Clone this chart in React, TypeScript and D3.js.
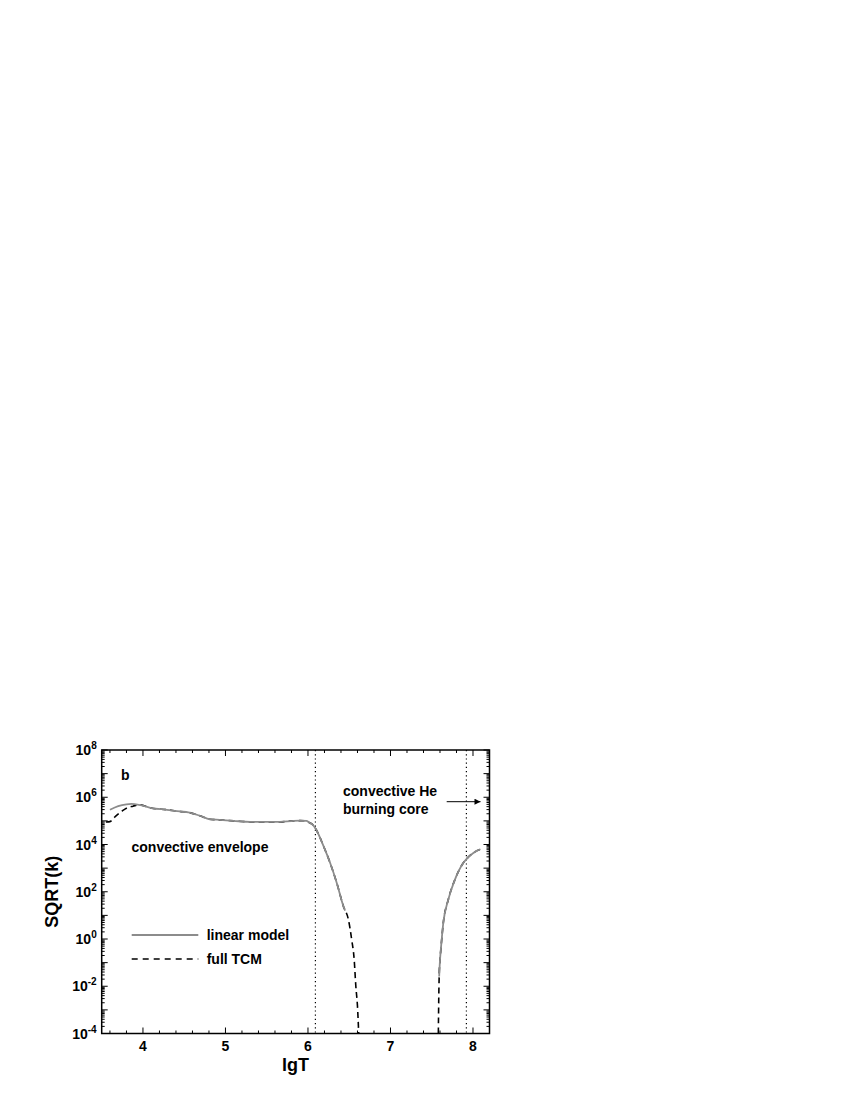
import React from "react";
import * as d3 from "d3";

// x: lgT, y: SQRT(k)
const linearX1 = [3.6, 3.7, 3.8, 3.86, 3.95, 4.1, 4.29, 4.45, 4.55, 4.69, 4.81, 4.93, 5.1, 5.3, 5.5, 5.66, 5.8, 5.9, 5.98, 6.02, 6.06, 6.1, 6.19, 6.27, 6.35, 6.43, 6.45];
const linearY1 = [2.95e5, 4.2e5, 5.0e5, 5.2e5, 4.8e5, 3.5e5, 2.95e5, 2.5e5, 2.3e5, 1.65e5, 1.17e5, 1.1e5, 1.0e5, 9.1e4, 9.1e4, 9.1e4, 9.8e4, 1.02e5, 1.0e5, 8.3e4, 6.8e4, 4.2e4, 8.3e3, 1.6e3, 2.3e2, 24, 16];
const linearX2 = [7.59, 7.6, 7.61, 7.64, 7.7, 7.78, 7.88, 7.92, 8.0, 8.05, 8.09];
const linearY2 = [0.026, 0.13, 0.35, 4.8, 46, 320, 1.6e3, 2.4e3, 4.3e3, 5.5e3, 6.3e3];

const tcmX1 = [3.55, 3.6, 3.67, 3.74, 3.81, 3.88, 3.95, 4.1, 4.29, 4.45, 4.55, 4.69, 4.81, 4.93, 5.1, 5.3, 5.5, 5.66, 5.8, 5.9, 5.98, 6.02, 6.06, 6.1, 6.19, 6.27, 6.35, 6.43, 6.49, 6.53, 6.56, 6.58, 6.6, 6.615];
const tcmY1 = [8.9e4, 9.3e4, 1.6e5, 2.5e5, 3.6e5, 4.2e5, 4.8e5, 3.5e5, 2.95e5, 2.5e5, 2.3e5, 1.65e5, 1.17e5, 1.1e5, 1.0e5, 9.1e4, 9.1e4, 9.1e4, 9.8e4, 1.02e5, 1.0e5, 8.3e4, 6.8e4, 4.2e4, 8.3e3, 1.6e3, 2.3e2, 24, 6.6, 0.93, 0.135, 0.01, 1.4e-3, 1e-4];
const tcmX2 = [7.58, 7.585, 7.59, 7.6, 7.61, 7.64, 7.7, 7.78, 7.88, 7.92, 8.0, 8.05, 8.09];
const tcmY2 = [1e-4, 3e-3, 0.026, 0.13, 0.35, 4.8, 46, 320, 1.6e3, 2.4e3, 4.3e3, 5.5e3, 6.3e3];

const xTicks = [4, 5, 6, 7, 8];
const yTickExps = [8, 6, 4, 2, 0, -2, -4];
const vLines = [6.09, 7.92];

const FONT = "'Liberation Sans', Arial, sans-serif";

export default function App() {
  const L = 101.7, R = 489.5, T = 750, B = 1033.5;
  const x = d3.scaleLinear().domain([3.5, 8.2]).range([L, R]);
  const y = d3.scaleLog().domain([1e-4, 1e8]).range([B, T]);

  const line = d3.line<[number, number]>().x(d => x(d[0])).y(d => y(d[1])).curve(d3.curveMonotoneX);
  const zip = (a: number[], b: number[]) => a.map((v, i) => [v, b[i]] as [number, number]);

  const xMinor: number[] = [];
  for (let v = 3.6; v < 8.2; v += 0.2) {
    const r = Math.round(v * 10) / 10;
    if (Math.abs(r - Math.round(r)) > 1e-6) xMinor.push(r);
  }
  const yMajor: number[] = [];
  const yMinor: number[] = [];
  for (let e = -4; e <= 8; e++) {
    yMajor.push(Math.pow(10, e));
    if (e < 8) for (let m = 2; m <= 9; m++) yMinor.push(m * Math.pow(10, e));
  }

  return (
    <svg width={850} height={1100} style={{ position: "absolute", left: 0, top: 0, background: "#fff" }} fontFamily={FONT}>
      <defs>
        <clipPath id="plot">
          <rect x={L} y={T} width={R - L} height={B - T} />
        </clipPath>
        <marker id="arr" viewBox="0 0 10 10" refX="10" refY="5" markerWidth="8" markerHeight="6" orient="auto" markerUnits="userSpaceOnUse">
          <path d="M0,0 L10,5 L0,10 z" fill="#000" />
        </marker>
      </defs>

      {/* dotted vertical lines */}
      {vLines.map(v => (
        <line key={v} x1={x(v)} x2={x(v)} y1={T} y2={B} stroke="#000" strokeWidth={1.2} strokeDasharray="1.2,3" />
      ))}

      <g clipPath="url(#plot)" fill="none">
        <path d={line(zip(tcmX1, tcmY1)) || ""} stroke="#000" strokeWidth={1.6} strokeDasharray="6,4" />
        <path d={line(zip(tcmX2, tcmY2)) || ""} stroke="#000" strokeWidth={1.6} strokeDasharray="6,4" />
        <path d={line(zip(linearX1, linearY1)) || ""} stroke="#8c8c8c" strokeWidth={1.8} />
        <path d={line(zip(linearX2, linearY2)) || ""} stroke="#8c8c8c" strokeWidth={1.8} />
      </g>

      {/* ticks */}
      <g stroke="#000" strokeWidth={1}>
        {xTicks.map(v => (
          <g key={"xt" + v}>
            <line x1={x(v)} x2={x(v)} y1={B} y2={B - 6} />
            <line x1={x(v)} x2={x(v)} y1={T} y2={T + 6} />
          </g>
        ))}
        {xMinor.map(v => (
          <g key={"xm" + v}>
            <line x1={x(v)} x2={x(v)} y1={B} y2={B - 3} />
            <line x1={x(v)} x2={x(v)} y1={T} y2={T + 3} />
          </g>
        ))}
        {yMajor.map(v => (
          <g key={"ym" + v}>
            <line x1={L} x2={L + 6} y1={y(v)} y2={y(v)} />
            <line x1={R} x2={R - 6} y1={y(v)} y2={y(v)} />
          </g>
        ))}
        {yMinor.map(v => (
          <g key={"yn" + v}>
            <line x1={L} x2={L + 3} y1={y(v)} y2={y(v)} />
            <line x1={R} x2={R - 3} y1={y(v)} y2={y(v)} />
          </g>
        ))}
      </g>

      {/* frame */}
      <rect x={L} y={T} width={R - L} height={B - T} fill="none" stroke="#000" strokeWidth={1.5} />

      {/* x tick labels */}
      {xTicks.map(v => (
        <text key={"xl" + v} x={x(v)} y={B + 17.5} textAnchor="middle" fontSize={14} fontWeight="bold">{v}</text>
      ))}
      {/* y tick labels */}
      {yTickExps.map(e => (
        <text key={"yl" + e} x={L - 5} y={y(Math.pow(10, e)) + 5} textAnchor="end" fontSize={14} fontWeight="bold">
          10<tspan fontSize={10} dy={-6}>{e}</tspan>
        </text>
      ))}

      {/* axis titles */}
      <text x={(L + R) / 2} y={B + 37} textAnchor="middle" fontSize={18} fontWeight="bold">lgT</text>
      <text transform={`translate(${58},${(T + B) / 2}) rotate(-90)`} textAnchor="middle" fontSize={18} fontWeight="bold">SQRT(k)</text>

      {/* annotations */}
      <text x={121} y={780} fontSize={14} fontWeight="bold">b</text>
      <text x={131.5} y={852} fontSize={14} fontWeight="bold">convective envelope</text>
      <text x={343} y={795.5} fontSize={14} fontWeight="bold">convective He</text>
      <text x={343} y={813.5} fontSize={14} fontWeight="bold">burning core</text>
      <line x1={446.7} x2={480.5} y1={801.7} y2={801.7} stroke="#000" strokeWidth={1} markerEnd="url(#arr)" />

      {/* legend */}
      <line x1={131.7} x2={198.3} y1={935} y2={935} stroke="#8c8c8c" strokeWidth={1.8} />
      <text x={206.7} y={940} fontSize={14} fontWeight="bold">linear model</text>
      <line x1={131.7} x2={198.3} y1={959} y2={959} stroke="#000" strokeWidth={1.6} strokeDasharray="6,5" />
      <text x={206.7} y={964} fontSize={14} fontWeight="bold">full TCM</text>
    </svg>
  );
}
